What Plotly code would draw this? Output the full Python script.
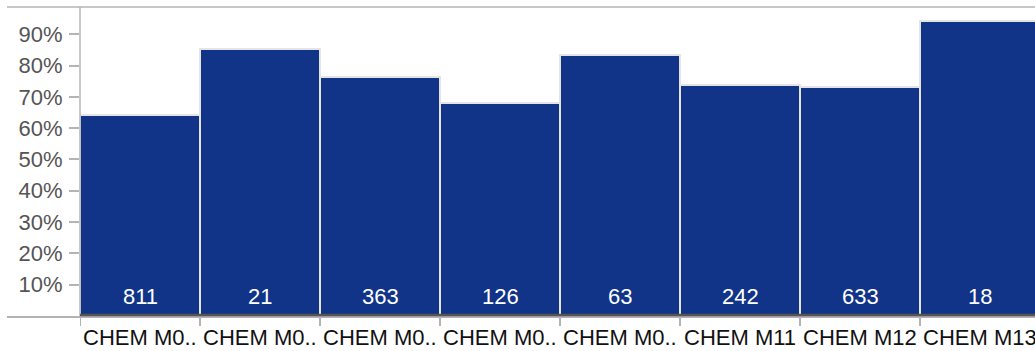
import plotly.graph_objects as go

categories = ["CHEM M0..", "CHEM M0..", "CHEM M0..", "CHEM M0..", "CHEM M0..",
              "CHEM M11", "CHEM M12", "CHEM M13"]
pct_values = [64.1, 85.3, 76.4, 68.1, 83.4, 73.8, 73.2, 94.3]
counts = [811, 21, 363, 126, 63, 242, 633, 18]
y_tick_vals = [10, 20, 30, 40, 50, 60, 70, 80, 90]
y_tick_text = [f"{v}%" for v in y_tick_vals]

W, H = 1035, 351
ML, MR, MT, MB = 80, 0, 7, 35
plot_w = W - ML - MR
plot_h = H - MT - MB
bar_px = 120.0
n = len(categories)
xs = list(range(n))

FONT = "Liberation Sans, Arial, sans-serif"

fig = go.Figure()
fig.add_trace(go.Bar(
    x=xs, y=pct_values, width=1.0,
    marker=dict(color="#113488", line=dict(color="#e4e4e4", width=2)),
    hoverinfo="skip", showlegend=False,
))

annotations = []
for i, c in enumerate(counts):
    annotations.append(dict(
        x=xs[i], y=0, xref="x", yref="y", text=str(c), showarrow=False,
        yanchor="bottom", yshift=5,
        font=dict(family=FONT, size=22, color="white"),
    ))
for i, lab in enumerate(categories):
    annotations.append(dict(
        x=xs[i], y=0, xref="x", yref="paper", text=lab, showarrow=False,
        yanchor="top", yshift=-7, xanchor="center",
        font=dict(family=FONT, size=22, color="#111111"),
    ))

px_y = lambda p: p / plot_h  # pixel offset -> paper units
left_px = (7 - ML) / plot_w

shapes = [
    dict(type="line", xref="paper", yref="paper", x0=left_px, x1=1, y0=1, y1=1,
         line=dict(color="#b4b4b4", width=1.5)),
    dict(type="line", xref="paper", yref="paper", x0=0, x1=0, y0=-px_y(1), y1=1,
         line=dict(color="#b4b4b4", width=1.5)),
    dict(type="line", xref="paper", yref="paper", x0=left_px, x1=1,
         y0=-px_y(1), y1=-px_y(1), line=dict(color="#b4b4b4", width=2)),
    dict(type="line", xref="paper", yref="paper", x0=0, x1=1,
         y0=px_y(1), y1=px_y(1), line=dict(color="#555555", width=2.5)),
]
for i in range(n):
    shapes.append(dict(type="line", xref="x", yref="paper",
                       x0=xs[i] - 0.5, x1=xs[i] - 0.5,
                       y0=-px_y(1), y1=-px_y(10),
                       line=dict(color="#b4b4b4", width=2)))

fig.update_layout(
    width=W, height=H,
    margin=dict(l=ML, r=MR, t=MT, b=MB, pad=0),
    paper_bgcolor="white", plot_bgcolor="white",
    bargap=0,
    xaxis=dict(range=[-0.5, -0.5 + plot_w / bar_px], tickvals=xs,
               showticklabels=False,
               ticks="", showgrid=False, zeroline=False, showline=False,
               fixedrange=True),
    yaxis=dict(range=[0, 98.7], tickvals=y_tick_vals, ticktext=y_tick_text,
               ticks="outside", ticklen=10, tickwidth=2, tickcolor="#b4b4b4",
               showgrid=False, zeroline=False, showline=False,
               tickfont=dict(family=FONT, size=22, color="#555555"),
               ticklabelstandoff=2, fixedrange=True),
    shapes=shapes,
    annotations=annotations,
)

fig.write_html("out.html", config={"displayModeBar": False},
               post_script="document.body.style.margin='0';document.body.style.overflow='hidden';")
